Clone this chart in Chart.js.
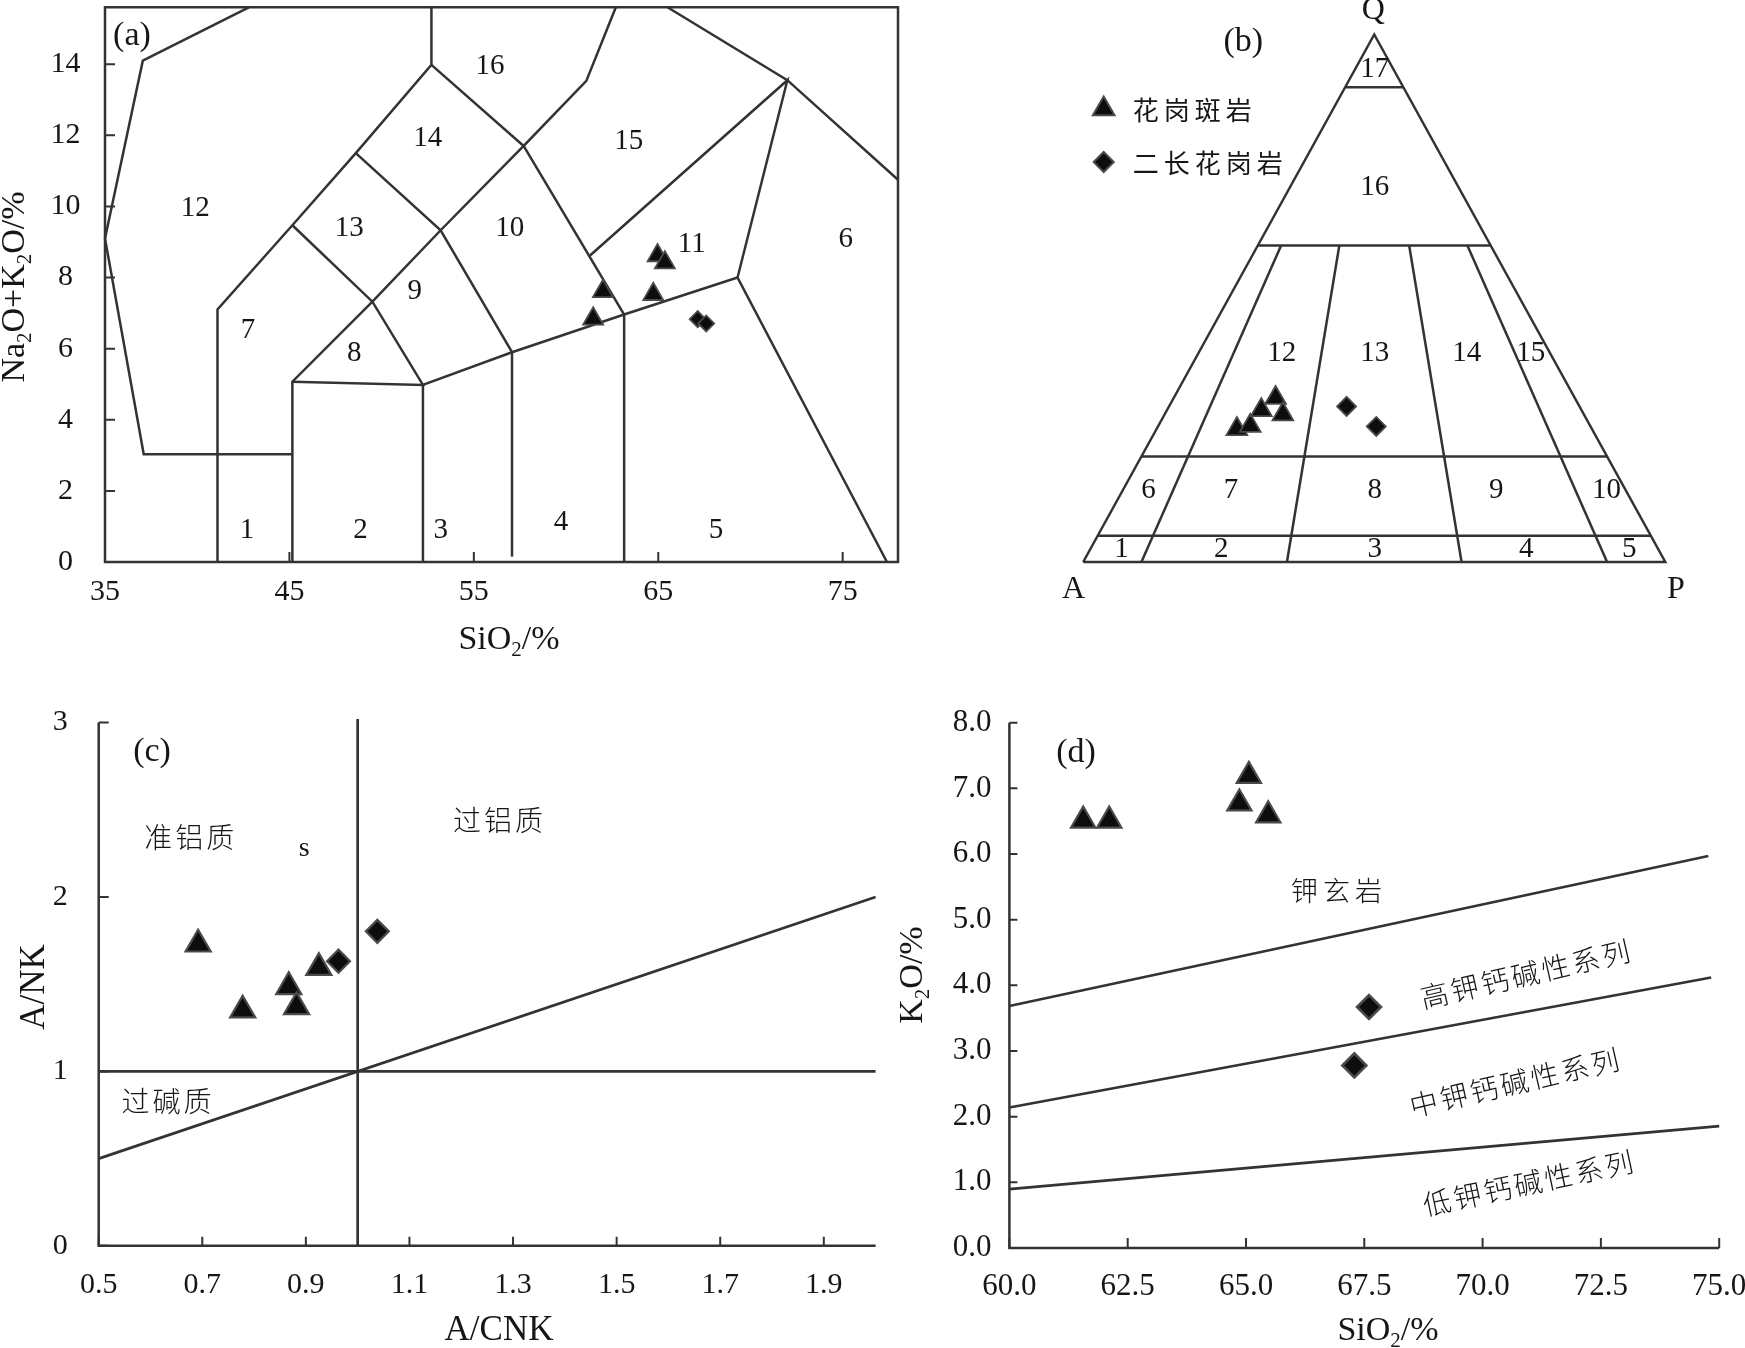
<!DOCTYPE html>
<html><head><meta charset="utf-8">
<script src="https://cdn.jsdelivr.net/npm/chart.js@4.4.0/dist/chart.umd.min.js"></script>
<style>
html,body{margin:0;padding:0;background:#fff;width:1745px;height:1348px;overflow:hidden;position:relative;}
canvas{position:absolute;}
</style></head><body>
<canvas id="ca" width="910" height="680" style="left:0;top:0;width:910px;height:680px"></canvas>
<canvas id="cb" width="835" height="680" style="left:910px;top:0;width:835px;height:680px"></canvas>
<canvas id="cc" width="910" height="668" style="left:0;top:680px;width:910px;height:668px"></canvas>
<canvas id="cd" width="900" height="668" style="left:880px;top:680px;width:900px;height:668px"></canvas>
<script>
// ---------------- DATA ----------------
const seriesNames = ['花岗斑岩', '二长花岗岩'];

// (a) TAS diagram
const aTriSiO2 = [61.47, 62.0, 64.96, 65.36, 64.73];
const aTriAlk  = [6.84, 7.61, 8.62, 8.42, 7.53];
const aDiaSiO2 = [67.14, 67.6];
const aDiaAlk  = [6.83, 6.71];
const aTicksX = [35, 45, 55, 65, 75];
const aTicksY = [0, 2, 4, 6, 8, 10, 12, 14];
const aBoundaryLines = [
  [[42.8,15.6],[37.05,14.1],[35,9.1],[37.1,3.03],[45.16,3.03]],
  [[41.1,0],[41.1,7.1],[45.16,9.47],[48.6,11.5],[52.7,13.98],[52.7,15.6]],
  [[52.7,13.98],[57.7,11.7],[61.1,13.53],[62.7,15.6]],
  [[57.7,11.7],[63.15,6.96],[63.15,0]],
  [[45.16,0],[45.16,5.07],[49.5,7.32],[53.2,9.33],[57.7,11.7]],
  [[45.16,5.07],[52.24,4.98],[49.5,7.32],[45.16,9.47]],
  [[48.6,11.5],[53.2,9.33],[57.07,5.9]],
  [[52.24,0],[52.24,4.98],[57.07,5.9],[63.15,6.96],[69.3,8.0]],
  [[57.07,0.15],[57.07,5.9]],
  [[61.3,8.62],[72.0,13.55],[69.3,8.0],[77.4,0]],
  [[65.5,15.6],[72.0,13.55],[78,10.75]]
];
const aFieldIds  = ['1','2','3','4','5','6','7','8','9','10','11','12','13','14','15','16'];
const aFieldSiO2 = [42.7,48.86,53.2,59.73,68.13,75.16,42.76,48.52,51.79,56.95,66.82,39.89,48.24,52.5,63.4,55.87];
const aFieldAlk  = [0.89,0.89,0.89,1.1,0.89,9.08,6.5,5.88,7.62,9.38,8.93,9.94,9.38,11.92,11.83,13.93];
const aTitleX = 'SiO{2}/%';
const aTitleY = 'Na{2}O+K{2}O/%';

// (b) QAP ternary (percent)
const bTriQ = [25.2, 25.8, 28.8, 31.1, 28.0];
const bTriA = [61.0, 58.4, 55.0, 51.4, 51.7];
const bTriP = [13.8, 15.8, 16.2, 17.5, 20.3];
const bDiaQ = [29.5, 25.7];
const bDiaA = [40.0, 36.8];
const bDiaP = [30.5, 37.5];
const bQLevels = [90, 60, 20, 5];          // horizontal boundaries, Q %
const bPRatios = [10, 35, 65, 90];         // P/(A+P) %, from Q=60 down to Q=0
const bFieldIds = ['1','2','3','4','5','6','7','8','9','10','12','13','14','15','16','17'];
const bFieldU = [0.066,0.237,0.501,0.761,0.938,0.112,0.254,0.501,0.7095,0.899,0.341,0.501,0.659,0.769,0.501,0.501];
const bFieldV = [0.0235,0.0235,0.0235,0.0235,0.0235,0.1365,0.1365,0.1365,0.1365,0.1365,0.395,0.395,0.395,0.395,0.711,0.934];
const bVertexNames = ['Q','A','P'];

// (c) A/NK vs A/CNK
const cTriACNK = [0.692, 0.778, 0.867, 0.882, 0.925];
const cTriANK  = [1.729, 1.351, 1.485, 1.370, 1.595];
const cDiaACNK = [0.963, 1.038];
const cDiaANK  = [1.632, 1.803];
const cTicksX = [0.5, 0.7, 0.9, 1.1, 1.3, 1.5, 1.7, 1.9];
const cTicksY = [0, 1, 2, 3];
const cLines = [ [[1,0],[1,3.02]], [[0.5,1],[2,1]], [[0.5,0.5],[2,2]] ];
const cTitleX = 'A/CNK';
const cTitleY = 'A/NK';

// (d) K2O vs SiO2
const dTriSiO2 = [61.56, 62.11, 64.86, 65.06, 65.47];
const dTriK2O  = [6.51, 6.51, 6.77, 7.19, 6.59];
const dDiaSiO2 = [67.6, 67.29];
const dDiaK2O  = [3.67, 2.78];
const dTicksX = [60, 62.5, 65, 67.5, 70, 72.5, 75];
const dTicksY = [0, 1, 2, 3, 4, 5, 6, 7, 8];
const dLines = [ [[60,3.686],[74.77,5.97]], [[60,2.14],[74.83,4.12]], [[60,0.896],[75,1.856]] ];
const dTitleX = 'SiO{2}/%';
const dTitleY = 'K{2}O/%';

// ---------------- STYLE / HELPERS ----------------
const SERIF = "'Liberation Serif','Times New Roman',serif";
const CJK = "'Noto Sans CJK SC','Noto Sans CJK JP',sans-serif";
const INK = '#161616';
const LINE = '#333333';
const FILL = '#0d0d0d';
const EDGE = '#4a4a4a';
Chart.defaults.font.family = SERIF;
Chart.defaults.color = INK;

const pts = (xs, ys) => xs.map((x, i) => ({x, y: ys[i]}));
const poly = arr => arr.map(([x, y]) => ({x, y}));
const tern = (q, a, p) => { const s = q + a + p; return {x: (p + q / 2) / s, y: q / s}; };

function lineDs(data, w) {
  return {data, showLine: true, pointRadius: 0, pointHoverRadius: 0, borderColor: LINE,
    borderWidth: w || 2.5, fill: false, tension: 0, order: 2, clip: false};
}
function markDs(label, data, style, r, bw) {
  return {label, data, pointStyle: style, pointRadius: r, pointHoverRadius: r,
    backgroundColor: FILL, borderColor: EDGE, borderWidth: bw || 2, showLine: false, order: 0, clip: false};
}
function axis(min, max, ticks, o) {
  return {
    type: 'linear', min, max, display: o.display !== false,
    grid: {display: false, drawTicks: false}, border: {display: false},
    afterBuildTicks: s => { s.ticks = ticks.map(v => ({value: v})); },
    afterFit: s => {
      if (o.w != null) s.width = o.w;
      if (o.h != null) s.height = o.h;
      s.paddingTop = 0; s.paddingBottom = 0; s.paddingLeft = 0; s.paddingRight = 0;
    },
    ticks: {padding: o.pad || 0, font: {size: o.fs || 30}, color: INK, autoSkip: false,
      maxRotation: 0, minRotation: 0, crossAlign: o.cross || 'near',
      callback: o.fmt || (v => String(v))}
  };
}

function parseRich(s) {
  const parts = []; const re = /\{([^}]*)\}|([^{]+)/g; let m;
  while ((m = re.exec(s))) parts.push(m[1] != null ? {t: m[1], sub: true} : {t: m[2], sub: false});
  return parts;
}
function drawRich(ctx, str, x, y, fs, rot) {
  const parts = parseRich(str); const sfs = Math.round(fs * 0.62);
  ctx.save(); ctx.translate(x, y); if (rot) ctx.rotate(rot * Math.PI / 180);
  ctx.fillStyle = INK; ctx.textBaseline = 'alphabetic'; ctx.textAlign = 'left';
  let w = 0;
  parts.forEach(p => { ctx.font = (p.sub ? sfs : fs) + 'px ' + SERIF; p.w = ctx.measureText(p.t).width; w += p.w; });
  let cx = -w / 2;
  parts.forEach(p => { ctx.font = (p.sub ? sfs : fs) + 'px ' + SERIF; ctx.fillText(p.t, cx, p.sub ? fs * 0.2 : 0); cx += p.w; });
  ctx.restore();
}
function drawMarker(ctx, style, x, y, r) {
  ctx.save(); ctx.fillStyle = FILL; ctx.strokeStyle = EDGE; ctx.lineWidth = 2;
  ctx.beginPath();
  if (style === 'triangle') {
    ctx.moveTo(x, y - r); ctx.lineTo(x + 0.866 * r, y + 0.5 * r); ctx.lineTo(x - 0.866 * r, y + 0.5 * r);
  } else {
    ctx.moveTo(x - r, y); ctx.lineTo(x, y - r); ctx.lineTo(x + r, y); ctx.lineTo(x, y + r);
  }
  ctx.closePath(); ctx.fill(); ctx.stroke(); ctx.restore();
}

// per-chart decorations (positions in canvas px for titles/legend; labels in data units)
const DECOR = {
  ca: {
    axes: true, box: true, axisW: 2.5, tickX: 10, tickY: 10,
    labels: aFieldIds.map((t, i) => ({t, x: aFieldSiO2[i], y: aFieldAlk[i], fs: 29}))
      .concat([{t: '(a)', x: 36.46, y: 14.8, fs: 34}]),
    titles: [{s: aTitleX, x: 509, y: 649, fs: 34, rot: 0}, {s: aTitleY, x: 24, y: 287, fs: 34, rot: -90}]
  },
  cb: {
    axes: false,
    labels: bFieldIds.map((t, i) => ({t, x: bFieldU[i], y: bFieldV[i], fs: 29}))
      .concat([{t: '(b)', x: 0.275, y: 0.986, fs: 34},
               {t: bVertexNames[0], x: 0.4985, y: 1.046, fs: 32},
               {t: bVertexNames[1], x: -0.0167, y: -0.052, fs: 32},
               {t: bVertexNames[2], x: 1.018, y: -0.052, fs: 32}]),
    legend: [{style: 'triangle', r: 12.5, text: seriesNames[0], x: 193.7, y: 109},
             {style: 'rectRot', r: 10, text: seriesNames[1], x: 193.7, y: 162}],
    titles: []
  },
  cc: {
    axes: true, box: false, axisW: 2.5, tickX: 9, tickY: 10,
    labels: [{t: '(c)', x: 0.603, y: 2.83, fs: 34},
             {t: '准铝质', x: 0.675, y: 2.34, fs: 28, cjk: true, ls: 3},
             {t: 's', x: 0.897, y: 2.28, fs: 28},
             {t: '过铝质', x: 1.271, y: 2.438, fs: 28, cjk: true, ls: 3},
             {t: '过碱质', x: 0.631, y: 0.826, fs: 28, cjk: true, ls: 3}],
    titles: [{s: cTitleX, x: 499, y: 660, fs: 35, rot: 0}, {s: cTitleY, x: 44, y: 307, fs: 35, rot: -90}]
  },
  cd: {
    axes: true, box: false, axisW: 2.5, tickX: 10, tickY: 8,
    labels: [{t: '(d)', x: 61.41, y: 7.53, fs: 34},
             {t: '钾玄岩', x: 66.91, y: 5.44, fs: 27, cjk: true, ls: 5},
             {t: '高钾钙碱性系列', x: 70.9, y: 4.17, fs: 28, cjk: true, ls: 3, rot: -13},
             {t: '中钾钙碱性系列', x: 70.67, y: 2.52, fs: 28, cjk: true, ls: 3, rot: -13},
             {t: '低钾钙碱性系列', x: 70.96, y: 0.99, fs: 28, cjk: true, ls: 3, rot: -12}],
    titles: [{s: dTitleX, x: 508, y: 660, fs: 34, rot: 0}, {s: dTitleY, x: 42, y: 295, fs: 34, rot: -90}]
  }
};

const decor = {
  id: 'decor',
  beforeDatasetsDraw(chart) {
    const o = DECOR[chart.canvas.id]; if (!o || !o.axes) return;
    const ctx = chart.ctx, ca = chart.chartArea, xs = chart.scales.x, ys = chart.scales.y;
    ctx.save(); ctx.strokeStyle = LINE; ctx.lineWidth = o.axisW;
    ctx.beginPath();
    if (o.box) ctx.rect(ca.left, ca.top, ca.right - ca.left, ca.bottom - ca.top);
    else { ctx.moveTo(ca.left, ca.top); ctx.lineTo(ca.left, ca.bottom); ctx.lineTo(ca.right, ca.bottom); }
    ctx.stroke();
    ctx.lineWidth = 2; ctx.beginPath();
    xs.ticks.forEach(t => { const p = xs.getPixelForValue(t.value); ctx.moveTo(p, ca.bottom); ctx.lineTo(p, ca.bottom - o.tickX); });
    ys.ticks.forEach(t => { const p = ys.getPixelForValue(t.value); ctx.moveTo(ca.left, p); ctx.lineTo(ca.left + o.tickY, p); });
    ctx.stroke(); ctx.restore();
  },
  afterDatasetsDraw(chart) {
    const o = DECOR[chart.canvas.id]; if (!o) return;
    const ctx = chart.ctx, xs = chart.scales.x, ys = chart.scales.y;
    (o.labels || []).forEach(L => {
      const px = xs.getPixelForValue(L.x), py = ys.getPixelForValue(L.y);
      ctx.save(); ctx.translate(px, py); if (L.rot) ctx.rotate(L.rot * Math.PI / 180);
      ctx.font = (L.cjk ? '300 ' : '') + L.fs + 'px ' + (L.cjk ? CJK : SERIF);
      const ls = L.ls || 0; ctx.letterSpacing = ls + 'px';
      ctx.fillStyle = INK; ctx.textAlign = 'center'; ctx.textBaseline = 'middle';
      ctx.fillText(L.t, ls / 2, 0); ctx.restore();
    });
    (o.legend || []).forEach(g => {
      drawMarker(ctx, g.style, g.x, g.y, g.r);
      ctx.save(); ctx.font = '26px ' + CJK; ctx.letterSpacing = '5px';
      ctx.fillStyle = INK; ctx.textAlign = 'left'; ctx.textBaseline = 'middle';
      ctx.fillText(g.text, g.x + 29, g.y + 1); ctx.restore();
    });
    (o.titles || []).forEach(t => drawRich(ctx, t.s, t.x, t.y, t.fs, t.rot));
  }
};

const baseOpts = (padding, scales) => ({
  responsive: false, animation: false, devicePixelRatio: 1, events: [],
  layout: {padding, autoPadding: false},
  plugins: {legend: {display: false}, tooltip: {enabled: false}},
  scales
});

// (a)
new Chart(document.getElementById('ca'), {
  type: 'scatter',
  data: {datasets: [
    markDs(seriesNames[0], pts(aTriSiO2, aTriAlk), 'triangle', 11.5, 1.8),
    markDs(seriesNames[1], pts(aDiaSiO2, aDiaAlk), 'rectRot', 8, 1.8),
    ...aBoundaryLines.map(b => lineDs(poly(b), 2.5))
  ]},
  options: baseOpts({left: 0, top: 7.3, right: 12, bottom: 0}, {
    x: axis(35, 78, aTicksX, {h: 118, pad: 12, fs: 30}),
    y: axis(0, 15.6, aTicksY, {w: 105, pad: 24.6, fs: 30, cross: 'center'})
  }),
  plugins: [decor]
});

// (b)
const bLines = [];
bLines.push([tern(0, 1, 0), tern(1, 0, 0), tern(0, 0, 1), tern(0, 1, 0)]);
bQLevels.forEach(q => { const f = q / 100; bLines.push([tern(f, 1 - f, 0), tern(f, 0, 1 - f)]); });
bPRatios.forEach(r => { const f = r / 100; bLines.push([tern(0.6, 0.4 * (1 - f), 0.4 * f), tern(0, 1 - f, f)]); });
new Chart(document.getElementById('cb'), {
  type: 'scatter',
  data: {datasets: [
    markDs(seriesNames[0], bTriQ.map((q, i) => tern(q, bTriA[i], bTriP[i])), 'triangle', 12, 1.8),
    markDs(seriesNames[1], bDiaQ.map((q, i) => tern(q, bDiaA[i], bDiaP[i])), 'rectRot', 9.5, 1.8),
    ...bLines.map(l => lineDs(l, 2.5))
  ]},
  options: baseOpts({left: 173.2, top: 34.5, right: 79.7, bottom: 118}, {
    x: axis(0, 1, [], {display: false}),
    y: axis(0, 1, [], {display: false})
  }),
  plugins: [decor]
});

// (c)
new Chart(document.getElementById('cc'), {
  type: 'scatter',
  data: {datasets: [
    markDs(seriesNames[0], pts(cTriACNK, cTriANK), 'triangle', 14.5, 2.2),
    markDs(seriesNames[1], pts(cDiaACNK, cDiaANK), 'rectRot', 11.5, 2.2),
    ...cLines.map(l => lineDs(poly(l), 2.7))
  ]},
  options: baseOpts({left: 0, top: 42.6, right: 34.4, bottom: 0}, {
    x: axis(0.5, 2.0, cTicksX, {h: 102.2, pad: 21, fs: 30, fmt: v => v.toFixed(1)}),
    y: axis(0, 3, cTicksY, {w: 98.7, pad: 31, fs: 30, fmt: v => String(v)})
  }),
  plugins: [decor]
});

// (d)
new Chart(document.getElementById('cd'), {
  type: 'scatter',
  data: {datasets: [
    markDs(seriesNames[0], pts(dTriSiO2, dTriK2O), 'triangle', 14, 2.2),
    markDs(seriesNames[1], pts(dDiaSiO2, dDiaK2O), 'rectRot', 12, 2.6),
    ...dLines.map(l => lineDs(poly(l), 2.7))
  ]},
  options: baseOpts({left: 0, top: 42.7, right: 60.8, bottom: 0}, {
    x: axis(60, 75, dTicksX, {h: 100, pad: 20.5, fs: 31, fmt: v => v.toFixed(1)}),
    y: axis(0, 8, dTicksY, {w: 129.4, pad: 17.8, fs: 31, fmt: v => v.toFixed(1)})
  }),
  plugins: [decor]
});
</script>
</body></html>
